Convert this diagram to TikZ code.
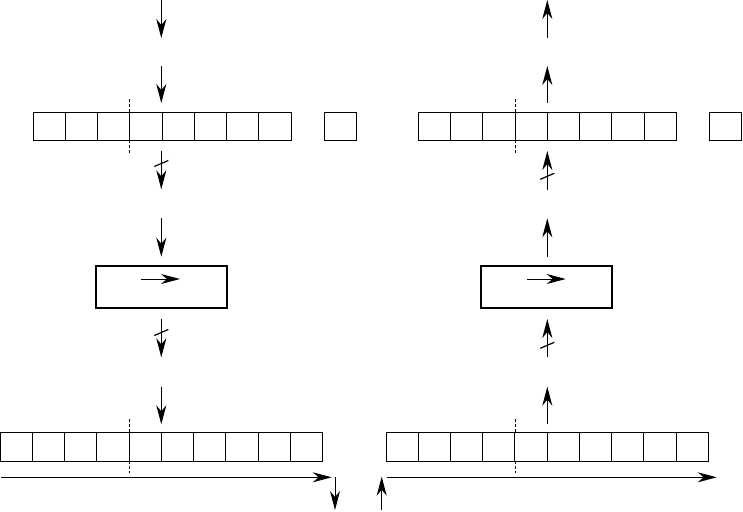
\documentclass[tikz,border=0pt]{standalone}
\usetikzlibrary{arrows.meta,calc}
\begin{document}
\begin{tikzpicture}[x=1pt,y=-1pt,
  cell/.style={draw,line width=0.9pt,minimum width=32.25pt,minimum height=28.5pt,inner sep=0pt,outer sep=0pt},
  unitbox/.style={draw,line width=2pt,minimum width=131pt,minimum height=42pt,inner sep=0pt,outer sep=0pt},
  cut/.style={line width=1.2pt},
  split/.style={line width=0.8pt,dash pattern=on 3pt off 2pt}]
\tikzset{flow/.style={line width=1pt,arrows={-Stealth[length=19pt,width=10pt,inset=6pt]}}}
\useasboundingbox (0,0) rectangle (743,511);

% ---------- left column ----------
\foreach \i in {0,...,7}{\node[cell] (lt\i) at ({33+32.25*(\i+0.5)},126.2) {};}
\node[cell,minimum width=32pt] (ltx) at (340.3,126.2) {};
\foreach \i in {0,...,9}{\node[cell,minimum width=32.27pt,minimum height=28.7pt] (lb\i) at ({32.27*(\i+0.5)},446.7) {};}
\node[unitbox] (lbox) at (161.2,287.3) {};

\coordinate (la0) at (161.3,0);   \coordinate (la1) at (161.3,38);
\coordinate (la2) at (161.3,66);  \coordinate (la3) at (161.3,103);
\coordinate (la4) at (161.3,151); \coordinate (la5) at (161.3,189.3);
\coordinate (la6) at (161.3,218.3); \coordinate (la7) at (161.3,256.7);
\coordinate (la8) at (161.3,319); \coordinate (la9) at (161.3,357.3);
\coordinate (la10) at (161.3,386.7); \coordinate (la11) at (161.3,424.3);
\coordinate (lin0) at (141,279); \coordinate (lin1) at (180,279);
\coordinate (llong0) at (1,477.3); \coordinate (llong1) at (331.7,477.3);
\coordinate (lout0) at (335,477.3); \coordinate (lout1) at (335,510);

\draw[flow] (la0) -- (la1);
\draw[flow] (la2) -- (la3);
\draw[flow] (la4) -- (la5);
\draw[flow] (la6) -- (la7);
\draw[flow] (la8) -- (la9);
\draw[flow] (la10) -- (la11);
\draw[flow] (lin0) -- (lin1);
\draw[flow] (llong0) -- (llong1);
\draw[flow] (lout0) -- (lout1);
\draw[cut] ($(la4)+(0,12.5)$) ++(-7,3) -- ++(14,-6);
\draw[cut] ($(la8)+(0,13.5)$) ++(-7,3) -- ++(14,-6);

\draw[split] (lt3.north west) -- ++(0,-13);
\draw[split] (lt3.south west) -- ++(0,13);
\draw[split] (lb4.north west) -- ++(0,-13);
\draw[split] (lb4.south west) -- ++(0,12);

% ---------- right column ----------
\foreach \i in {0,...,7}{\node[cell] (rt\i) at ({418.3+32.25*(\i+0.5)},126.2) {};}
\node[cell,minimum width=32pt] (rtx) at (725.6,126.2) {};
\foreach \i in {0,...,9}{\node[cell,minimum width=32.23pt,minimum height=28.7pt] (rb\i) at ({386+32.23*(\i+0.5)},446.7) {};}
\node[unitbox] (rbox) at (546.8,287.3) {};

\coordinate (ra0) at (547.3,38);   \coordinate (ra1) at (547.3,0);
\coordinate (ra2) at (547.3,103);  \coordinate (ra3) at (547.3,66);
\coordinate (ra4) at (547.3,190);  \coordinate (ra5) at (547.3,151);
\coordinate (ra6) at (547.3,256.7); \coordinate (ra7) at (547.3,218.3);
\coordinate (ra8) at (547.3,357.3); \coordinate (ra9) at (547.3,319);
\coordinate (ra10) at (547.3,424.3); \coordinate (ra11) at (547.3,386.7);
\coordinate (rin0) at (527,279); \coordinate (rin1) at (565.7,279);
\coordinate (rlong0) at (386.7,477.3); \coordinate (rlong1) at (716.7,477.3);
\coordinate (rout0) at (381.7,510); \coordinate (rout1) at (381.7,476.7);

\draw[flow] (ra0) -- (ra1);
\draw[flow] (ra2) -- (ra3);
\draw[flow] (ra4) -- (ra5);
\draw[flow] (ra6) -- (ra7);
\draw[flow] (ra8) -- (ra9);
\draw[flow] (ra10) -- (ra11);
\draw[flow] (rin0) -- (rin1);
\draw[flow] (rlong0) -- (rlong1);
\draw[flow] (rout0) -- (rout1);
\draw[cut] ($(ra4)+(0,-13.7)$) ++(-7,3) -- ++(14,-6);
\draw[cut] ($(ra8)+(0,-12)$) ++(-7,3) -- ++(14,-6);

\draw[split] (rt3.north west) -- ++(0,-13);
\draw[split] (rt3.south west) -- ++(0,13);
\draw[split] (rb4.north west) -- ++(0,-13);
\draw[split] (rb4.south west) -- ++(0,12);
\end{tikzpicture}
\end{document}
